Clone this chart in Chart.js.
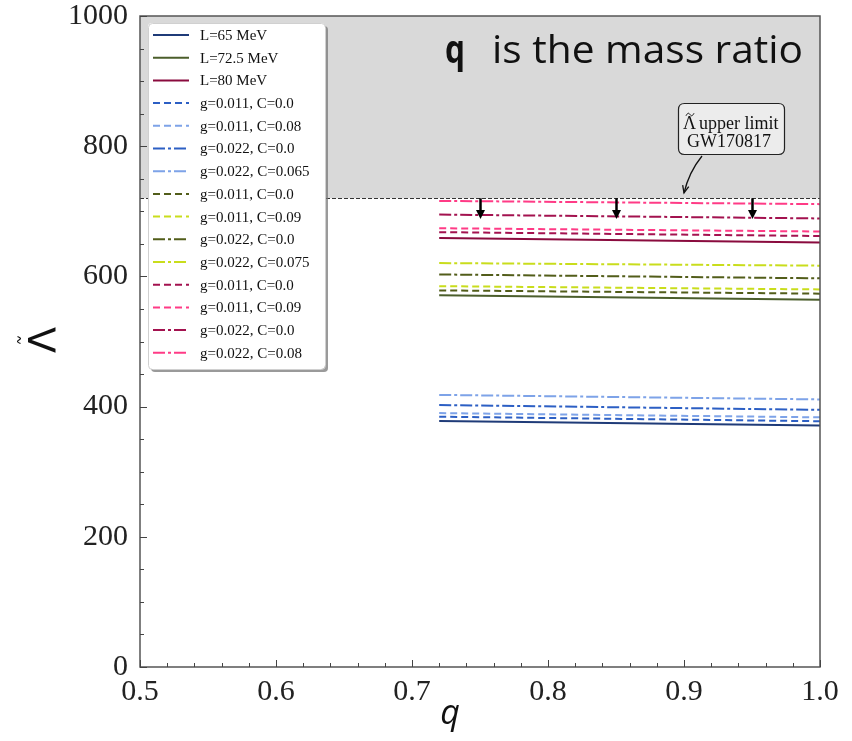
<!DOCTYPE html>
<html>
<head>
<meta charset="utf-8">
<script src="https://cdn.jsdelivr.net/npm/chart.js@4.4.0/dist/chart.umd.min.js"></script>
<style>
html,body{margin:0;padding:0;background:#fff;}
#wrap{width:852px;height:741px;position:relative;}
</style>
</head>
<body>
<div id="wrap"><canvas id="c" width="852" height="741"></canvas></div>
<script>
// ---- data ----
const qValues = [0.72, 1.0];
const L65   = [378, 371];
const L72_5 = [571, 564];
const L80   = [659, 652];
const blue_g011_C0    = [384.5, 377.5];
const blue_g011_C008  = [390, 383.5];
const blue_g022_C0    = [402.5, 395];
const blue_g022_C0065 = [418, 411];
const olive_g011_C0   = [578.5, 573.5];
const olive_g011_C009 = [585, 580];
const olive_g022_C0   = [603, 597];
const olive_g022_C0075= [620.5, 616.5];
const red_g011_C0     = [668, 662];
const red_g011_C009   = [674, 669];
const red_g022_C0     = [695, 689];
const red_g022_C008   = [716, 711];
const upperLimit = 720;
const arrowQ = [0.75, 0.85, 0.95];
const arrowTipValue = 688;
const xTicks = [0.5, 0.6, 0.7, 0.8, 0.9, 1.0];
const yTicks = [0, 200, 400, 600, 800, 1000];

const DASH = [7, 4];
const DASHDOT = [12, 3, 3, 3];
const seriesDefs = [
  ['L=65 MeV', L65, '#1f3b78', []],
  ['L=72.5 MeV', L72_5, '#4b5e2b', []],
  ['L=80 MeV', L80, '#8a0b3e', []],
  ['g=0.011, C=0.0', blue_g011_C0, '#2c5fc4', DASH],
  ['g=0.011, C=0.08', blue_g011_C008, '#7ea3e8', DASH],
  ['g=0.022, C=0.0', blue_g022_C0, '#2c5fc4', DASHDOT],
  ['g=0.022, C=0.065', blue_g022_C0065, '#7ea3e8', DASHDOT],
  ['g=0.011, C=0.0', olive_g011_C0, '#525d1a', DASH],
  ['g=0.011, C=0.09', olive_g011_C009, '#c9dd1c', DASH],
  ['g=0.022, C=0.0', olive_g022_C0, '#525d1a', DASHDOT],
  ['g=0.022, C=0.075', olive_g022_C0075, '#c9dd1c', DASHDOT],
  ['g=0.011, C=0.0', red_g011_C0, '#a3124f', DASH],
  ['g=0.011, C=0.09', red_g011_C009, '#ff3b86', DASH],
  ['g=0.022, C=0.0', red_g022_C0, '#a3124f', DASHDOT],
  ['g=0.022, C=0.08', red_g022_C008, '#ff3b86', DASHDOT]
];

const datasets = seriesDefs.map(([label, vals, color, dash]) => ({
  label,
  data: qValues.map((q, i) => ({x: q, y: vals[i]})),
  borderColor: color,
  backgroundColor: color,
  borderDash: dash,
  borderWidth: 2,
  pointRadius: 0,
  showLine: true,
  fill: false,
  tension: 0
}));

function drawTilde(ctx, cx, cy, w, h) {
  ctx.beginPath();
  ctx.moveTo(cx - w / 2, cy + h / 2);
  ctx.bezierCurveTo(cx - w / 4, cy - h, cx - w / 8, cy - h / 2, cx, cy);
  ctx.bezierCurveTo(cx + w / 8, cy + h / 2, cx + w / 4, cy + h, cx + w / 2, cy - h / 2);
  ctx.stroke();
}

const decor = {
  id: 'decor',
  beforeDatasetsDraw(chart) {
    const {ctx, chartArea: a, scales: {x, y}} = chart;
    const yl = y.getPixelForValue(upperLimit);
    ctx.save();
    ctx.fillStyle = '#d9d9d9';
    ctx.fillRect(a.left, a.top, a.right - a.left, yl - a.top);
    ctx.strokeStyle = '#333';
    ctx.lineWidth = 1;
    ctx.setLineDash([4, 2]);
    ctx.beginPath();
    ctx.moveTo(a.left, Math.round(yl) + 0.5);
    ctx.lineTo(a.right, Math.round(yl) + 0.5);
    ctx.stroke();
    ctx.restore();
  },
  afterDraw(chart) {
    const {ctx, chartArea: a, scales: {x, y}} = chart;
    ctx.save();
    // arrows
    const yl = y.getPixelForValue(upperLimit);
    const yt = y.getPixelForValue(arrowTipValue);
    ctx.fillStyle = '#000';
    ctx.strokeStyle = '#000';
    arrowQ.forEach(q => {
      const px = Math.round(x.getPixelForValue(q)) + 0.5;
      ctx.lineWidth = 2.5;
      ctx.setLineDash([]);
      ctx.beginPath();
      ctx.moveTo(px, yl);
      ctx.lineTo(px, yt - 7);
      ctx.stroke();
      ctx.beginPath();
      ctx.moveTo(px - 4.5, yt - 9);
      ctx.lineTo(px + 4.5, yt - 9);
      ctx.lineTo(px, yt);
      ctx.closePath();
      ctx.fill();
    });

    // frame
    ctx.strokeStyle = '#555';
    ctx.lineWidth = 1.5;
    ctx.strokeRect(a.left, a.top, a.right - a.left, a.bottom - a.top);
    // ticks
    ctx.strokeStyle = '#444';
    ctx.lineWidth = 1;
    for (let i = 0; i <= 25; i++) {
      const v = 0.5 + i * 0.02;
      const px = Math.round(x.getPixelForValue(v)) + 0.5;
      const len = (i % 5 === 0) ? 7 : 4;
      ctx.beginPath(); ctx.moveTo(px, a.bottom); ctx.lineTo(px, a.bottom - len); ctx.stroke();
    }
    for (let i = 0; i <= 20; i++) {
      const v = i * 50;
      const py = Math.round(y.getPixelForValue(v)) + 0.5;
      const len = (i % 4 === 0) ? 7 : 4;
      ctx.beginPath(); ctx.moveTo(a.left, py); ctx.lineTo(a.left + len, py); ctx.stroke();
    }

    // legend
    const lx = 148, ly = 23, lw = 177, lh = 346;
    ctx.fillStyle = 'rgba(120,120,120,0.75)';
    roundRect(ctx, lx + 3, ly + 3, lw, lh, 4); ctx.fill();
    ctx.fillStyle = '#fff';
    roundRect(ctx, lx, ly, lw, lh, 4); ctx.fill();
    ctx.strokeStyle = '#d0d0d0'; ctx.lineWidth = 1;
    roundRect(ctx, lx + 0.5, ly + 0.5, lw, lh, 4); ctx.stroke();
    ctx.font = '15px "Liberation Serif", "Times New Roman", serif';
    ctx.textBaseline = 'middle';
    ctx.textAlign = 'left';
    chart.data.datasets.forEach((ds, i) => {
      const ry = 35 + i * 22.7;
      ctx.strokeStyle = ds.borderColor;
      ctx.lineWidth = 2;
      ctx.setLineDash(ds.borderDash || []);
      ctx.beginPath(); ctx.moveTo(153, ry); ctx.lineTo(189, ry); ctx.stroke();
      ctx.setLineDash([]);
      ctx.fillStyle = '#111';
      ctx.fillText(ds.label, 200, ry + 1);
    });

    // annotation box
    ctx.setLineDash([]);
    ctx.fillStyle = '#ececec';
    roundRect(ctx, 678.5, 103.5, 106, 51, 6); ctx.fill();
    ctx.strokeStyle = '#222'; ctx.lineWidth = 1.2;
    roundRect(ctx, 678.5, 103.5, 106, 51, 6); ctx.stroke();
    ctx.fillStyle = '#111';
    ctx.font = '18px "Liberation Serif", "Times New Roman", serif';
    ctx.textAlign = 'left';
    ctx.textBaseline = 'alphabetic';
    ctx.fillText('\u039B', 683, 129);
    ctx.fillText('upper limit', 699, 129);
    ctx.strokeStyle = '#111'; ctx.lineWidth = 1;
    drawTilde(ctx, 690, 114.5, 8, 2.5);
    ctx.textAlign = 'center';
    ctx.fillText('GW170817', 729, 147);
    // curved arrow
    ctx.strokeStyle = '#111'; ctx.lineWidth = 1.3;
    ctx.beginPath();
    ctx.moveTo(702, 156);
    ctx.quadraticCurveTo(689, 172, 684, 193);
    ctx.stroke();
    const ang = Math.atan2(193 - 172, 684 - 689);
    ctx.beginPath();
    ctx.moveTo(684 - 8 * Math.cos(ang - 0.4), 193 - 8 * Math.sin(ang - 0.4));
    ctx.lineTo(684, 193);
    ctx.lineTo(684 - 8 * Math.cos(ang + 0.4), 193 - 8 * Math.sin(ang + 0.4));
    ctx.stroke();

    // title text
    ctx.fillStyle = '#111';
    ctx.textAlign = 'left';
    ctx.textBaseline = 'alphabetic';
    ctx.font = 'bold 39px "Open Sans", Lato, sans-serif';
    fitText(ctx, 'q', 445, 63, 20);
    ctx.font = '39px "Open Sans", Lato, sans-serif';
    fitText(ctx, 'is the mass ratio', 492, 63, 311);

    // axis titles
    ctx.font = 'italic 34px "Open Sans", "DejaVu Sans", sans-serif';
    ctx.textAlign = 'center';
    ctx.textBaseline = 'middle';
    ctx.fillStyle = '#111';
    ctx.fillText('q', 450, 714);
    ctx.save();
    ctx.translate(41, 340);
    ctx.rotate(-Math.PI / 2);
    ctx.font = '38px "DejaVu Sans", sans-serif';
    ctx.textBaseline = 'alphabetic';
    ctx.fillText('\u039B', 0, 14);
    ctx.strokeStyle = '#111'; ctx.lineWidth = 1.2;
    drawTilde(ctx, 0, -22, 7, 3);
    ctx.restore();

    ctx.restore();
  }
};

function fitText(ctx, txt, x, y, w) {
  const m = ctx.measureText(txt).width;
  ctx.save();
  ctx.translate(x, y);
  ctx.scale(w / m, 1);
  ctx.fillText(txt, 0, 0);
  ctx.restore();
}
function roundRect(ctx, x, y, w, h, r) {
  ctx.beginPath();
  ctx.moveTo(x + r, y);
  ctx.lineTo(x + w - r, y);
  ctx.quadraticCurveTo(x + w, y, x + w, y + r);
  ctx.lineTo(x + w, y + h - r);
  ctx.quadraticCurveTo(x + w, y + h, x + w - r, y + h);
  ctx.lineTo(x + r, y + h);
  ctx.quadraticCurveTo(x, y + h, x, y + h - r);
  ctx.lineTo(x, y + r);
  ctx.quadraticCurveTo(x, y, x + r, y);
  ctx.closePath();
}

const tickFont = {family: '"Liberation Serif", "Times New Roman", serif', size: 30, lineHeight: 1};

new Chart(document.getElementById('c'), {
  type: 'scatter',
  data: {datasets},
  plugins: [decor],
  options: {
    responsive: false,
    animation: false,
    layout: {padding: {left: 0, top: 16, right: 32, bottom: 0}},
    plugins: {legend: {display: false}, tooltip: {enabled: false}},
    scales: {
      x: {
        type: 'linear', min: 0.5, max: 1.0,
        afterBuildTicks: s => { s.ticks = xTicks.map(v => ({value: v})); },
        afterFit: s => { s.height = 74; s.paddingLeft = 0; s.paddingRight = 0; },
        grid: {display: false, drawTicks: false},
        border: {display: false},
        ticks: {padding: 10, color: '#222', font: tickFont, maxRotation: 0,
                callback: v => Number(v).toFixed(1)}
      },
      y: {
        type: 'linear', min: 0, max: 1000,
        afterBuildTicks: s => { s.ticks = yTicks.map(v => ({value: v})); },
        afterFit: s => { s.width = 140; s.paddingTop = 0; s.paddingBottom = 0; },
        grid: {display: false, drawTicks: false},
        border: {display: false},
        ticks: {padding: 12, color: '#222', font: tickFont,
                callback: v => String(v)}
      }
    }
  }
});
</script>
</body>
</html>
